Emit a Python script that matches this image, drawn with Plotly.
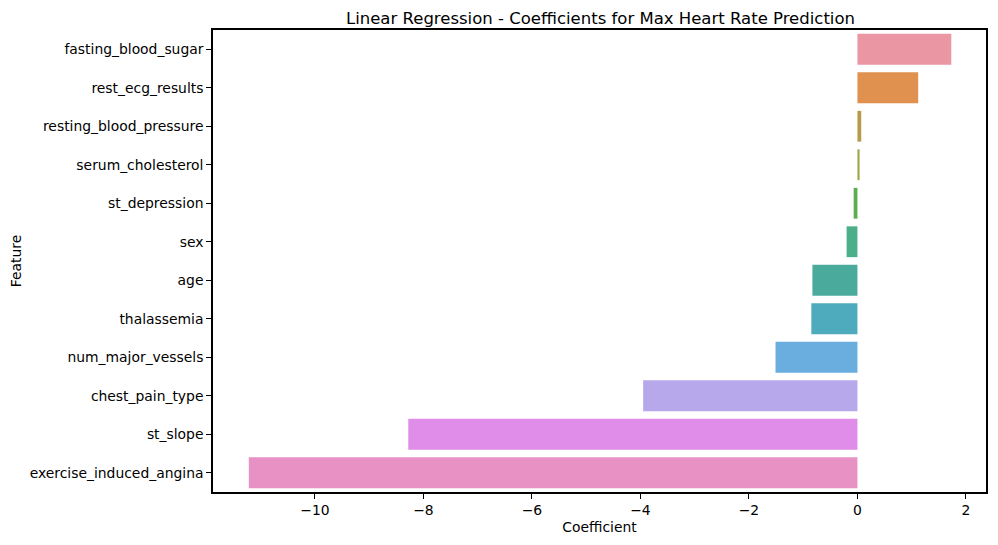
import plotly.graph_objects as go

# coefficient data (top to bottom as in the chart)
features = ["fasting_blood_sugar", "rest_ecg_results", "resting_blood_pressure",
            "serum_cholesterol", "st_depression", "sex", "age", "thalassemia",
            "num_major_vessels", "chest_pain_type", "st_slope",
            "exercise_induced_angina"]
coefs = [1.73, 1.12, 0.07, 0.04, -0.07, -0.20, -0.83, -0.85, -1.51, -3.95, -8.28, -11.22]

# husl-like palette (desaturated, seaborn style)
bar_colors = ["#ea96a3", "#e1914f", "#b59b4a", "#9ea54a", "#5cad4e", "#4bb08a",
              "#4aab9d", "#4eaabd", "#6aaee0", "#b7a8ec", "#df8de8", "#e891c4"]

font = "DejaVu Sans"

fig = go.Figure()
fig.add_trace(go.Bar(x=coefs, y=features, orientation="h",
                     marker=dict(color=bar_colors, line=dict(width=0)),
                     width=0.8, showlegend=False))

# page body has an 8px margin, so the figure is 982x529 inside the window
fig.update_layout(
    autosize=True,
    margin=dict(l=205, r=2, t=22, b=45),
    plot_bgcolor="white", paper_bgcolor="white",
    font=dict(family=font, size=13.9, color="black"),
    title=dict(text="Linear Regression - Coefficients for Max Heart Rate Prediction",
               x=(205 + 980) / 2 / 982, xanchor="center", y=1 - 10 / 529, yanchor="middle",
               font=dict(size=16.5, color="black")),
    bargap=0.2,
)

# box round the plot area (matplotlib spines)
axis_style = dict(showgrid=False, zeroline=False,
                  showline=True, linecolor="black", linewidth=1.5, mirror=True,
                  ticks="outside", ticklen=5, tickwidth=1.2, tickcolor="black")

fig.update_xaxes(
    range=[-11.88, 2.37], tickvals=[-10, -8, -6, -4, -2, 0, 2],
    title=dict(text="Coefficient", standoff=5, font=dict(size=13.9)),
    **axis_style,
)
fig.update_yaxes(
    categoryorder="array", categoryarray=features, autorange="reversed",
    title=dict(text="Feature", standoff=8, font=dict(size=13.9)),
    **axis_style,
)

fig.write_html("out.html")
